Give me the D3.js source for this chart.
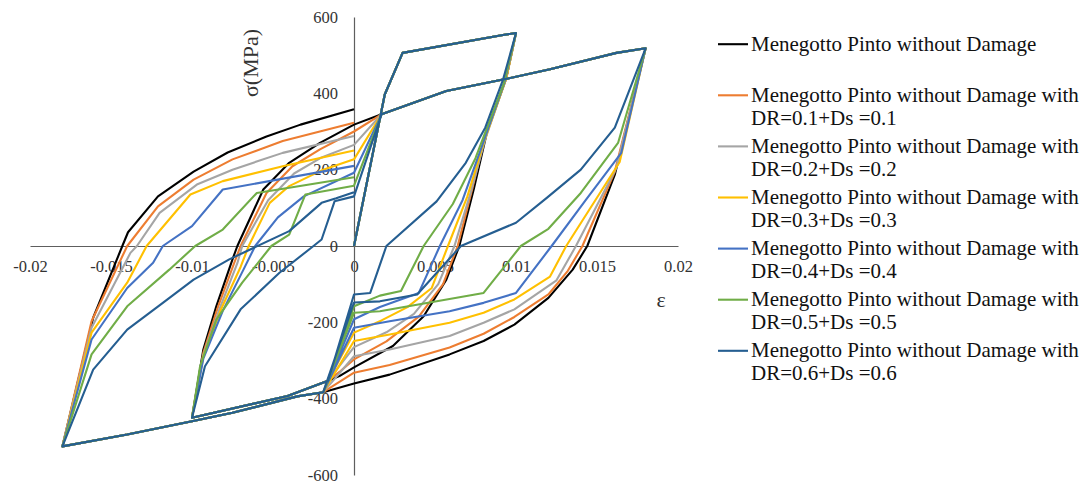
<!DOCTYPE html>
<html>
<head>
<meta charset="utf-8">
<script src="https://cdn.jsdelivr.net/npm/d3@7/dist/d3.min.js"></script>
<style>
  html, body { margin: 0; padding: 0; background: #ffffff; }
  svg { display: block; }
  text { font-family: "Liberation Serif", "Times New Roman", "DejaVu Serif", serif; }
</style>
</head>
<body>
<svg id="chart" width="1083" height="486"></svg>
<script>
// Strain (ε) / stress (σ, MPa) points of the cyclic steel response.

const seriesNames = [
  ["Menegotto Pinto without Damage"],
  ["Menegotto Pinto without Damage with", "DR=0.1+Ds =0.1"],
  ["Menegotto Pinto without Damage with", "DR=0.2+Ds =0.2"],
  ["Menegotto Pinto without Damage with", "DR=0.3+Ds =0.3"],
  ["Menegotto Pinto without Damage with", "DR=0.4+Ds =0.4"],
  ["Menegotto Pinto without Damage with", "DR=0.5+Ds =0.5"],
  ["Menegotto Pinto without Damage with", "DR=0.6+Ds =0.6"]
];
const seriesColors = ["#000000", "#ED7D31", "#A5A5A5", "#FFC000", "#4472C4", "#70AD47", "#255E91"];

const xTickValues = [-0.02, -0.015, -0.01, -0.005, 0, 0.005, 0.01, 0.015, 0.02];
const xTickLabels = ["-0.02", "-0.015", "-0.01", "-0.005", "0", "0.005", "0.01", "0.015", "0.02"];
const yTickValues = [-600, -400, -200, 0, 200, 400, 600];
const yTickLabels = ["-600", "-400", "-200", "0", "200", "400", "600"];

// shared first loading up to ε = 0.01
const initialLoading = [[0, 0], [0.0019, 397], [0.003, 506], [0.0092, 553], [0.01, 558]];
// shared compression branch to ε = -0.01
const compression1 = [[-0.0016, -353], [-0.0041, -393], [-0.01, -450]];
// shared tension branch to ε = 0.018
const tension2 = [[0.0017, 345], [0.0057, 406], [0.0092, 436], [0.0121, 463], [0.0162, 506], [0.018, 518]];
// shared compression branch to ε = -0.018
const compression2 = [[-0.0019, -383], [-0.0035, -394], [-0.0075, -437], [-0.01, -459], [-0.014, -494], [-0.018, -525]];

// unloading from ε = 0.01 (one list per series)
const unloading1 = [
  [[0.0094, 440], [0.0082, 297], [0.0074, 150], [0.0065, 0], [0.0057, -88], [0.0043, -184], [0.0024, -262], [0, -318], [-0.0009, -341]],
  [[0.0094, 440], [0.0081, 290], [0.0073, 150], [0.0064, 0], [0.0055, -100], [0.004, -185], [0.002, -250], [0, -297], [-0.0009, -330]],
  [[0.0094, 440], [0.0081, 280], [0.0072, 140], [0.0062, 0], [0.0052, -100], [0.0037, -178], [0.002, -226], [0, -265]],
  [[0.0094, 440], [0.008, 270], [0.007, 130], [0.0058, 0], [0.0048, -110], [0.0033, -160], [0.0017, -195], [0, -227]],
  [[0.0093, 430], [0.0078, 250], [0.0067, 120], [0.0053, 0], [0.004, -123], [0.0016, -160], [0, -192]],
  [[0.0092, 420], [0.0075, 230], [0.0061, 110], [0.0043, 0], [0.0029, -118], [0.0016, -130], [0, -158]],
  [[0.0092, 436], [0.0081, 310], [0.0069, 218], [0.0051, 117], [0.002, 0], [0.001, -123], [0, -127]]
];

// reloading from ε = -0.01
const reloading1 = [
  [[-0.0093, -271], [-0.0085, -158], [-0.0075, -35], [-0.0072, 0], [-0.0056, 148], [-0.004, 218], [-0.0021, 270], [0, 318]],
  [[-0.0093, -280], [-0.0084, -160], [-0.0074, -45], [-0.007, 0], [-0.0054, 139], [-0.0038, 209], [-0.0021, 253], [0, 300]],
  [[-0.0093, -285], [-0.0083, -165], [-0.0072, -45], [-0.0069, 0], [-0.0053, 120], [-0.0037, 190], [-0.002, 232], [0, 265]],
  [[-0.0093, -290], [-0.0082, -165], [-0.007, -55], [-0.0065, 0], [-0.0052, 113], [-0.004, 157], [-0.0019, 200], [0, 227]],
  [[-0.0093, -295], [-0.0081, -170], [-0.0068, -60], [-0.0061, 0], [-0.0047, 75], [-0.0031, 130], [0, 192]],
  [[-0.0095, -315], [-0.0085, -193], [-0.0069, -96], [-0.0051, 0], [-0.004, 30], [-0.003, 135], [0, 158]],
  [[-0.0092, -315], [-0.007, -166], [-0.0046, -70], [-0.0025, 0], [-0.002, 17], [-0.0012, 117], [0, 130]]
];

// unloading from ε = 0.018
const unloading2 = [
  [[0.0161, 187], [0.0144, 0], [0.0135, -62], [0.012, -136], [0.0099, -206], [0.008, -249], [0.0059, -284], [0.0022, -337], [0, -360]],
  [[0.0161, 195], [0.0141, 0], [0.0132, -65], [0.012, -127], [0.0099, -186], [0.008, -230], [0.0059, -266], [0.0022, -312], [0, -332]],
  [[0.0162, 205], [0.0137, 0], [0.0125, -90], [0.0099, -166], [0.008, -201], [0.0059, -236], [0.0022, -271], [0, -289]],
  [[0.0164, 220], [0.0131, 0], [0.0121, -80], [0.0099, -140], [0.008, -175], [0.0059, -201], [0.0022, -232], [0, -249]],
  [[0.0165, 244], [0.0143, 120], [0.0122, 0], [0.01, -123], [0.008, -149], [0.0059, -171], [0.0022, -197], [0, -214]],
  [[0.0163, 270], [0.014, 139], [0.012, 45], [0.0103, 0], [0.008, -123], [0.0016, -171], [0, -175]],
  [[0.0161, 310], [0.014, 200], [0.0119, 126], [0.01, 61], [0.0066, 0], [0.0039, -127], [0.0016, -145], [0, -148]]
];

// reloading from ε = -0.018
const reloading2 = [
  [[-0.0161, -188], [-0.0143, 0], [-0.01395, 36], [-0.0121, 130], [-0.0099, 195], [-0.0078, 245], [-0.0054, 287], [-0.0033, 318], [0, 358]],
  [[-0.0162, -197], [-0.014, 0], [-0.0121, 104], [-0.0099, 174], [-0.0075, 227], [-0.0044, 275], [0, 323]],
  [[-0.0162, -214], [-0.0138, -18], [-0.0134, 0], [-0.012, 87], [-0.0097, 161], [-0.0075, 200], [-0.0044, 244], [0, 288]],
  [[-0.0162, -227], [-0.014, -96], [-0.0128, 0], [-0.0101, 135], [-0.0081, 170], [-0.0044, 209], [0, 250]],
  [[-0.0162, -245], [-0.014, -110], [-0.0124, -44], [-0.0118, 0], [-0.01, 52], [-0.0081, 148], [0, 210]],
  [[-0.0162, -284], [-0.014, -158], [-0.0114, -62], [-0.0098, 0], [-0.0081, 43], [-0.006, 139], [0, 180]],
  [[-0.0161, -324], [-0.014, -219], [-0.0118, -149], [-0.0099, -88], [-0.0077, -35], [-0.004, 39], [-0.002, 113], [-0.0011, 125], [0, 141]]
];

const svg = d3.select("#chart");
svg.append("rect").attr("width", 1083).attr("height", 486).attr("fill", "#ffffff");

const x = d3.scaleLinear().domain([-0.02, 0.02]).range([30, 678]);
const y = d3.scaleLinear().domain([-600, 600]).range([475, 17]);

// axes crossing at the origin
const xAxis = d3.axisBottom(x)
  .tickValues(xTickValues)
  .tickFormat((d, i) => xTickLabels[i])
  .tickSizeInner(0).tickSizeOuter(0).tickPadding(14);
const yAxis = d3.axisLeft(y)
  .tickValues(yTickValues)
  .tickFormat((d, i) => yTickLabels[i])
  .tickSizeInner(0).tickSizeOuter(0).tickPadding(16);

const gx = svg.append("g").attr("transform", `translate(0,${y(0)})`).call(xAxis);
const gy = svg.append("g").attr("transform", `translate(${x(0)},0)`).call(yAxis);
[gx, gy].forEach(g => {
  g.attr("font-family", null);
  g.select(".domain").attr("stroke", "#5e5e5e").attr("stroke-width", 1.2);
  g.selectAll("text").attr("font-size", "16.5px").attr("fill", "#333333");
});

// axis titles
svg.append("text")
  .attr("x", 661).attr("y", 307)
  .attr("text-anchor", "middle")
  .attr("font-size", "22px").attr("fill", "#333333")
  .text("ε");
svg.append("text")
  .attr("transform", `translate(258,63) rotate(-90)`)
  .attr("text-anchor", "middle")
  .attr("font-size", "22px").attr("fill", "#333333")
  .text("σ(MPa)");

// full loading history of each series
const histories = seriesColors.map((c, i) => [].concat(
  initialLoading,
  unloading1[i],
  compression1,
  reloading1[i],
  tension2,
  unloading2[i],
  compression2,
  reloading2[i]
));

const line = d3.line().x(d => x(d[0])).y(d => y(d[1]));

svg.append("g")
  .selectAll("path")
  .data(histories)
  .join("path")
  .attr("d", line)
  .attr("fill", "none")
  .attr("stroke", (d, i) => seriesColors[i])
  .attr("stroke-width", 2.1)
  .attr("stroke-linejoin", "round");

// legend
const legend = svg.append("g");
const legendBase = 50.7;
const legendSpacing = 51.1;
seriesNames.forEach((lines, i) => {
  const base = legendBase + i * legendSpacing;
  legend.append("line")
    .attr("x1", 718).attr("x2", 748)
    .attr("y1", base - 6.5).attr("y2", base - 6.5)
    .attr("stroke", seriesColors[i]).attr("stroke-width", 2.1);
  const t = legend.append("text")
    .attr("x", 751).attr("y", base)
    .attr("font-size", "21px").attr("fill", "#111111");
  lines.forEach((s, j) => {
    t.append("tspan").attr("x", 751).attr("y", base + j * 22.7).text(s);
  });
});
</script>
</body>
</html>
